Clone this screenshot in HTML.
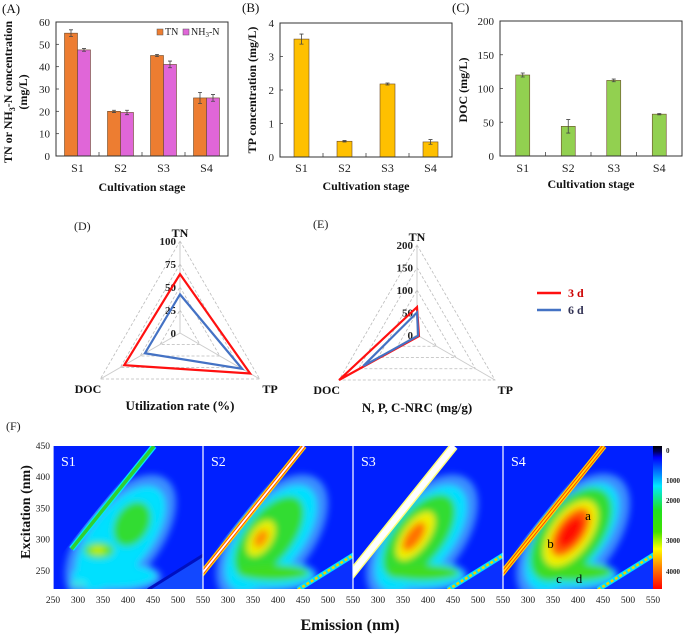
<!DOCTYPE html>
<html><head><meta charset="utf-8">
<style>
html,body{margin:0;padding:0;background:#fff;}
svg{display:block;font-family:"Liberation Serif",serif;}
.tk{font-size:11px;fill:#222;}
.ttl{font-size:12px;font-weight:bold;fill:#111;}
</style></head>
<body>
<svg id="fig" width="685" height="636" viewBox="0 0 685 636" xmlns="http://www.w3.org/2000/svg">
<defs>
  <filter id="blur4" x="-50%" y="-50%" width="200%" height="200%"><feGaussianBlur stdDeviation="3.5"/></filter>
  <linearGradient id="cbar" x1="0" y1="0" x2="0" y2="1">
    <stop offset="0" stop-color="#000"/><stop offset="0.04" stop-color="#000060"/>
    <stop offset="0.08" stop-color="#0000ff"/><stop offset="0.28" stop-color="#00e8ff"/>
    <stop offset="0.45" stop-color="#20e020"/><stop offset="0.6" stop-color="#40e000"/>
    <stop offset="0.72" stop-color="#ffff00"/><stop offset="0.85" stop-color="#ff8000"/>
    <stop offset="1" stop-color="#ff0000"/>
  </linearGradient>
</defs>
</svg>
<script>
const stages=['S1','S2','S3','S4'];
const tnVals=[55,20,45,26];
const tnErr=[1.5,0.5,0.5,2.5];
const nhVals=[47.5,19.5,41,26];
const nhErr=[0.6,1,1.5,1.5];
const tpVals=[3.52,0.47,2.18,0.45];
const tpErr=[0.15,0.02,0.03,0.07];
const docVals=[120,44,112,62];
const docErr=[3,10,2,1];
const radarAxes=['TN','TP','DOC'];
const util3d=[64,88,70];
const util6d=[42,78,44];
const nrc3d=[62,5,200];
const nrc6d=[50,3,138];
const eemTicksX=[250,300,350,400,450,500,550];
const eemTicksY=[250,300,350,400,450];
const cbarLabels=['0','1000','2000','3000','4000'];

const NS='http://www.w3.org/2000/svg';
const svg=document.getElementById('fig');
function mk(tag,attrs,parent){const e=document.createElementNS(NS,tag);for(const k in attrs)e.setAttribute(k,attrs[k]);(parent||svg).appendChild(e);return e;}
function txt(s,x,y,cls,anchor,parent){const t=mk('text',{x:x,y:y,class:cls,'text-anchor':anchor||'middle'},parent);t.textContent=s;return t;}

function barChart(o){
  const g=mk('g',{});
  
  
  const ys=v=>o.y1-(v/o.ymax)*(o.y1-o.y0);
  const gw=(o.x1-o.x0)/4;
  const lab=txt(o.letter,o.lx,o.ly,'ttl','start',g);lab.style.fontWeight='normal';lab.style.fontSize='13px';
  
  
  o.ticks.forEach(v=>{
    const t=txt(String(v),o.x0-6,ys(v)+4,'tk','end',g);
    
    
    mk('line',{x1:o.x0,x2:o.x0+3,y1:ys(v),y2:ys(v),stroke:'#444','stroke-width':0.8},g);
  });
  for(let i=1;i<4;i++) mk('line',{x1:o.x0+i*gw,x2:o.x0+i*gw,y1:o.y1,y2:o.y1-4,stroke:'#444','stroke-width':0.8},g);
  o.series.forEach((s,si)=>{
    s.vals.forEach((v,i)=>{
      const cx=o.x0+(i+0.5)*gw;
      const bx=o.series.length===1?cx-o.bw/2:cx-o.bw+si*o.bw;
      const r=mk('rect',{x:bx,y:ys(v),width:o.bw,height:o.y1-ys(v),fill:s.color,stroke:'#6a4a2a','stroke-width':0.6},g);
      
      
      const ex=bx+o.bw/2,e=s.err[i];
      const eb=mk('path',{d:`M${ex},${ys(v+e)}V${ys(v-e)}M${ex-2},${ys(v+e)}h4M${ex-2},${ys(v-e)}h4`,stroke:'#444','stroke-width':0.8,fill:'none'},g);
      
      
    });
  });
  const box=mk('rect',{x:o.x0,y:o.y0,width:o.x1-o.x0,height:o.y1-o.y0,fill:'none',stroke:'#333','stroke-width':1},g);
  
  
  stages.forEach((s,i)=>{
    const t=txt(s,o.x0+(i+0.5)*gw,172,'tk','middle',g);t.style.fontSize='12px';
    
    
  });
  const xl=txt('Cultivation stage',(o.x0+o.x1)/2,o.xly,'ttl','middle',g);
  
  
  return {g,ys};
}

const A=barChart({name:'chart-a',letter:'(A)',lx:2,ly:13,x0:56,x1:228,y0:22,y1:156,ymax:60,ticks:[0,10,20,30,40,50,60],bw:13,xly:191,
  series:[{key:'tn',vals:tnVals,err:tnErr,color:'#ED7D31'},{key:'nh3n',vals:nhVals,err:nhErr,color:'#E066D8'}]});
let t=txt('',12,92,'ttl','middle',A.g);t.setAttribute('transform','rotate(-90 12 92)');
t.innerHTML='TN or NH<tspan font-size="8" dy="3">3</tspan><tspan dy="-3">-N concentration</tspan>';


t=txt('(mg/L)',27,92,'ttl','middle',A.g);t.setAttribute('transform','rotate(-90 27 92)');


[['TN','#ED7D31',157],['NH','#E066D8',183]].forEach(l=>{
  const r=mk('rect',{x:l[2],y:29,width:6,height:6,fill:l[1],stroke:'#555','stroke-width':0.5},A.g);
  
  
});
t=txt('TN',165,35,'tk','start',A.g);t.style.fontSize='10px';


t=txt('',191,35,'tk','start',A.g);t.style.fontSize='10px';t.innerHTML='NH<tspan font-size="7" dy="2">3</tspan><tspan dy="-2">-N</tspan>';



const B=barChart({name:'chart-b',letter:'(B)',lx:242,ly:12,x0:280,x1:452,y0:23,y1:157,ymax:4,ticks:[0,1,2,3,4],bw:15,xly:190,
  series:[{key:'tp',vals:tpVals,err:tpErr,color:'#FFC000'}]});
t=txt('TP concentration (mg/L)',256,90,'ttl','middle',B.g);t.setAttribute('transform','rotate(-90 256 90)');



const C=barChart({name:'chart-c',letter:'(C)',lx:452,ly:12,x0:500,x1:682,y0:21,y1:156,ymax:200,ticks:[0,50,100,150,200],bw:14,xly:188,
  series:[{key:'doc',vals:docVals,err:docErr,color:'#92D050'}]});
t=txt('DOC (mg/L)',467,90,'ttl','middle',C.g);t.setAttribute('transform','rotate(-90 467 90)');



function radar(o){
  const g=mk('g',{});
  
  
  const ang=[-90,30,150].map(a=>a*Math.PI/180);
  const pt=(k,v)=>[o.cx+Math.cos(ang[k])*o.R*v/o.max,o.cy+Math.sin(ang[k])*o.R*v/o.max];
  o.levels.forEach(lv=>{
    if(lv===0)return;
    const p=[0,1,2].map(k=>pt(k,lv).join(',')).join(' ');
    mk('polygon',{points:p,fill:'none',stroke:'#bbb','stroke-width':0.8,'stroke-dasharray':'3,2'},g);
  });
  [0,1,2].forEach(k=>{const p=pt(k,o.max);mk('line',{x1:o.cx,y1:o.cy,x2:p[0],y2:p[1],stroke:'#ccc','stroke-width':1},g);});
  o.levels.forEach(lv=>{
    const tt=txt(String(lv),o.cx-4,pt(0,lv)[1]+4,'tk','end',g);tt.style.fontWeight='bold';
    
    
  });
  o.series.forEach(s=>{
    const p=s.vals.map((v,k)=>pt(k,v).join(',')).join(' ');
    const pl=mk('polygon',{points:p,fill:'none',stroke:s.color,'stroke-width':2.2},g);
    
    
  });
  const lbl=[[o.cx,o.cy-o.R-4],[o.cx+o.R*0.87+10,o.cy+o.R/2+14],[o.cx-o.R*0.87-12,o.cy+o.R/2+14]];
  radarAxes.forEach((a,k)=>{
    const tt=txt(a,lbl[k][0],lbl[k][1],'ttl','middle',g);
    
    
  });
  const ti=txt(o.title,o.cx,o.cy+77,'ttl','middle',g);ti.style.fontSize='13px';
  
  
  const le=txt(o.letter,o.lx,o.ly,'tk','start',g);le.style.fontSize='12px';
  
  
}
radar({name:'radar-d',cx:180,cy:333,R:92,max:100,levels:[0,25,50,75,100],title:'Utilization rate (%)',letter:'(D)',lx:74,ly:230,
  series:[{key:'3d',vals:util3d,color:'#FF1010'},{key:'6d',vals:util6d,color:'#4472C4'}]});
radar({name:'radar-e',cx:417,cy:335,R:90,max:200,levels:[0,50,100,150,200],title:'N, P, C-NRC (mg/g)',letter:'(E)',lx:313,ly:228,
  series:[{key:'3d',vals:nrc3d,color:'#FF1010'},{key:'6d',vals:nrc6d,color:'#4472C4'}]});
[['3 d','#FF1010',293],['6 d','#4472C4',310]].forEach(l=>{
  const ln=mk('line',{x1:537,x2:561,y1:l[2],y2:l[2],stroke:l[1],'stroke-width':2.5});
  
  
  const tt=txt(l[0],568,l[2]+4,'ttl','start');tt.style.fill=l[1]==='#FF1010'?'#c00':'#335';
  
  
});

/* EEM panel F: [em, ex, semi-major (nm), semi-minor (nm), color, tilt deg] */
const eemBlobs=[
 [[385,302,150,78,'#3a8dff',-52],[372,240,95,34,'#3a8dff',0],[385,302,124,60,'#00e0ff',-52],[372,242,85,24,'#00e0ff',0],[408,325,48,34,'#30dc30',-60],[342,283,30,16,'#50e020',0],[340,283,15,7,'#d0f000',0],[300,229,18,6,'#40e8e0',0]],
 [[388,302,150,80,'#3a8dff',-52],[380,242,98,34,'#3a8dff',0],[386,302,126,62,'#00e0ff',-52],[383,244,88,26,'#00e0ff',0],[382,305,96,48,'#30dc30',-52],[390,247,72,16,'#40dc20',0],[366,302,40,22,'#e8f000',-58],[366,302,20,12,'#ff9000',-58]],
 [[388,302,150,80,'#3a8dff',-52],[380,242,98,34,'#3a8dff',0],[386,302,126,62,'#00e0ff',-52],[383,244,88,26,'#00e0ff',0],[382,305,100,50,'#30dc30',-52],[390,247,72,16,'#40dc20',0],[375,306,56,26,'#f0f000',-55],[372,305,34,15,'#ff7000',-55]],
 [[390,302,152,82,'#3a8dff',-52],[380,242,100,34,'#3a8dff',0],[388,304,128,64,'#00e0ff',-52],[385,245,90,26,'#00e0ff',0],[386,308,110,60,'#30dc30',-52],[392,248,76,18,'#40dc20',0],[385,310,76,40,'#f0f000',-55],[385,312,56,28,'#ff6000',-55],[385,312,36,18,'#ff1000',-55]]
];
const rayleighColors=[['#00e8ff','#30d030','#30d030'],['#ffd000','#ff4000','#ffffff'],['#ffff80','#ffffff','#ffffff'],['#ffd000','#ff3000','#ffe000']];
const PX0=53,PW=150,PY0=446,PY1=589;
const exToY=ex=>PY0+(450-ex)*(PY1-PY0)/(450-221);
const emToX=(i,em)=>PX0+i*PW+(em-250)*PW/300;
const eg=mk('g',{});


t=txt('(F)',6,430,'tk','start',eg);t.style.fontSize='12px';


stages.forEach((s,i)=>{
  const clip=mk('clipPath',{id:'cp'+i},svg.querySelector('defs'));
  mk('rect',{x:PX0+i*PW,y:PY0,width:PW,height:PY1-PY0},clip);
  const pg=mk('g',{'clip-path':'url(#cp'+i+')'},eg);
  
  
  mk('rect',{x:PX0+i*PW,y:PY0,width:PW,height:PY1-PY0,fill:'#0020ff'},pg);
  const bg=mk('g',{filter:'url(#blur4)'},pg);
  eemBlobs[i].forEach(b=>{
    const cx=emToX(i,b[0]),cy=exToY(b[1]);
    const el=mk('ellipse',{cx:cx,cy:cy,rx:b[2]*0.5,ry:b[3]*0.5,fill:b[4],transform:`rotate(${b[5]} ${cx} ${cy})`},bg);
    
    
  });
  mk('polygon',{points:`${emToX(i,240)},${exToY(250)} ${emToX(i,443)},${exToY(452)} ${emToX(i,240)},${exToY(452)}`,fill:'#0020ff'},pg);
  mk('polygon',{points:`${emToX(i,432)},${exToY(215)} ${emToX(i,560)},${exToY(279)} ${emToX(i,560)},${exToY(215)}`,fill:i===0?'#1248ff':'#0a30ff'},pg);
  const rc=rayleighColors[i];
  const ry0=i===0?285:215;
  const rd=`M${emToX(i,ry0+2)},${exToY(ry0)}L${emToX(i,452)},${exToY(450)}`;
  const r1=mk('path',{d:rd,stroke:rc[0],'stroke-width':i===2?9:6,fill:'none'},pg);
  
  
  mk('path',{d:rd,stroke:rc[1],'stroke-width':i===2?6:3.5,fill:'none'},pg);
  mk('path',{d:rd,stroke:rc[2],'stroke-width':i===0?1.5:1.8,fill:'none'},pg);
  const sd=`M${emToX(i,440)},${exToY(220)}L${emToX(i,556)},${exToY(278)}`;
  if(i===0){mk('path',{d:sd,stroke:'#0010c0','stroke-width':3,fill:'none'},pg);}
  else{mk('path',{d:sd,stroke:'#00e0ff','stroke-width':5,fill:'none'},pg);mk('path',{d:sd,stroke:'#f0d000','stroke-width':2.5,fill:'none','stroke-dasharray':'3,2'},pg);}
  const sl=txt(s,PX0+i*PW+8,466,'tk','start',pg);sl.style.fill='#fff';sl.style.fontSize='14px';
  
  
  mk('line',{x1:PX0+i*PW,x2:PX0+i*PW,y1:PY0,y2:PY1,stroke:'#fff','stroke-width':1.2},eg);
  eemTicksX.forEach((v,k)=>{
    if(i>0&&k===0)return;
    const tt=txt(String(v),emToX(i,v),603,'tk','middle',eg);tt.style.fontSize='9.5px';
    
    
  });
});
[['a',420,338],['b',345,293],['c',362,237],['d',402,237]].forEach(l=>{
  const tt=txt(l[0],emToX(3,l[1]),exToY(l[2])+4,'tk','middle',eg);tt.style.fontSize='13px';tt.style.fill='#000';
  
  
});
eemTicksY.forEach(v=>{
  const tt=txt(String(v),50,exToY(v)+3,'tk','end',eg);tt.style.fontSize='9.5px';
  
  
});
const cb=mk('rect',{x:653,y:PY0,width:9,height:PY1-PY0,fill:'url(#cbar)'},eg);


cbarLabels.forEach((l,k)=>{
  const tt=txt(l,666,[453,483,503,543,574][k],'tk','start',eg);tt.style.fontSize='7px';tt.style.fontWeight='bold';
  
  
});
t=txt('Emission (nm)',350,630,'ttl','middle',eg);t.style.fontSize='16px';


t=txt('Excitation (nm)',30,512,'ttl','middle',eg);t.style.fontSize='14px';t.setAttribute('transform','rotate(-90 30 512)');


</script>
</body></html>
